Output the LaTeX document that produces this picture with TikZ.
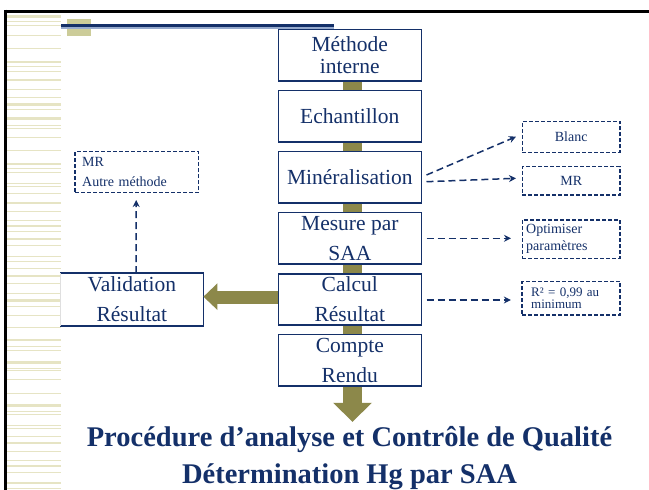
\documentclass[tikz,border=0pt]{standalone}
\usepackage{fontspec}
\setmainfont{Liberation Serif}
\usetikzlibrary{calc,arrows.meta}
\definecolor{navy}{RGB}{20,48,105}
\definecolor{olivec}{RGB}{140,136,74}
\definecolor{stripec}{RGB}{230,228,196}
\definecolor{sqc}{RGB}{204,204,153}
\definecolor{lblue}{RGB}{150,170,205}
\tikzset{
  box/.style={draw=navy, line width=1.6pt, fill=white, text=navy, inner sep=0pt,
    minimum width=143pt, minimum height=51.3pt, align=center,
    font=\fontsize{21.5}{30}\selectfont},
  dbox/.style={draw=navy, line width=1.5pt, dash pattern=on 4pt off 2pt, fill=white,
    text=navy, inner sep=0pt, font=\fontsize{14}{17}\selectfont},
  darr/.style={draw=navy, line width=1.5pt, dash pattern=on 7pt off 4pt,
    -{Stealth[length=7pt,width=7pt]}},
}
\begin{document}
\begin{tikzpicture}[x=1pt,y=-1pt]
\useasboundingbox (0,0) rectangle (649,490);
\fill[white] (0,0) rectangle (649,490);
% left stripes
\foreach \sy/\sw in {16.5/3,21.7/1,25/1,35/1,48/1,62/2.5,66.7/1,71/1,80/2.5,89/1,97/1,104/3,109/1,118/3,125/1,128/1,137/1,150/1,164/2.5,168/1,172.7/1,183/1,186.7/1,193/1,203/2.5,211.7/1,220/1,226/2.5,231.7/1,239/2.5,245/1,256.7/1,261.7/1,268/1,276/2.5,283/1,293/1,300/3,306/1,315/1,327/1,340/2.5,346/1,350/1,362/3,368/1,370.5/1,379/1,393/1,405.7/2.5,411.7/1,414/1,425/1,428/1,436/1,443/2.5,451.7/1,460/1,466/2.5,472/1,483/2.5,488/1}
  \draw[stripec, line width=\sw pt] (7,\sy) -- (61,\sy);
% frame lines
\draw[black, line width=3pt] (4,11) -- (649,11);
\draw[black, line width=2.5pt] (5.3,9.5) -- (5.3,490);
% olive square and blue rule
\fill[sqc] (67,19) rectangle (91,36);
\draw[navy, line width=2.6pt] (61,25.2) -- (334,25.2);
\draw[lblue, line width=1.4pt] (61,27.8) -- (334,27.8);
% olive backbone drawn first
\node[box, draw=none, fill=none] (meth0) at (349.8,55.3) {};
\node[box, draw=none, fill=none] (cr0) at (349.8,360.3) {};
\fill[olivec] ($(meth0.south)+(-6.8,0)$) rectangle ($(cr0.south)+(12.2,16)$);
\fill[olivec] ($(cr0.south)+(-16.8,16)$) -- ($(cr0.south)+(22.2,16)$) -- ($(cr0.south)+(2.7,35)$) -- cycle;
% boxes
\node[box, font=\fontsize{21.5}{22}\selectfont] (meth) at (349.8,55.3) {Méthode\\interne};
\node[box] (ech) at (349.8,116.3) {Echantillon};
\node[box] (min) at (349.8,177.3) {Minéralisation};
\node[box] (mes) at (349.8,238.3) {Mesure par\\SAA};
\node[box] (calc) at (349.8,299.5) {Calcul\\Résultat};
\node[box] (cr) at (349.8,360.3) {Compte\\Rendu};
% validation
\node[box, draw=none, minimum width=141.7pt, minimum height=51pt] (val) at (131.8,299.5) {Validation\\Résultat};
\draw[navy, line width=1.6pt] (val.north west) -- (val.north east) -- (val.south east) -- (val.south west);
\draw[gray!25, line width=1pt] (val.north west) -- (val.south west);
% left olive arrow
\fill[olivec] ($(calc.west)+(0,-8.8)$) rectangle ($(val.east)+(14,4.5)$);
\fill[olivec] ($(val.east)+(14,-16.2)$) -- ($(val.east)+(14,10.5)$) -- ($(val.east)+(0,-2.8)$) -- cycle;
% dashed boxes
\node[dbox, minimum width=123.3pt, minimum height=41pt, align=left, text width=109pt, inner xsep=7pt, font=\fontsize{14}{20}\selectfont] (mrl) at (136.7,172.2) {MR\\Autre méthode};
\node[dbox, minimum width=97.7pt, minimum height=31pt] (blanc) at (571.2,137.2) {Blanc};
\node[dbox, minimum width=97.7pt, minimum height=28.3pt] (mrr) at (571.2,180.8) {MR};
\node[dbox, minimum width=97.7pt, minimum height=38.3pt, align=left, text width=90pt, inner xsep=3.5pt] (opt) at (571.2,239.2) {Optimiser\\paramètres};
\node[dbox, minimum width=97.7pt, minimum height=33.3pt, align=left, text width=80pt, inner xsep=9pt, font=\fontsize{13}{12.5}\selectfont] (rsq) at (571.2,298.3) {R² = 0,99 au\\minimum};
% dashed arrows
\draw[darr] ($(min.east)+(4.4,-2.3)$) -- ($(blanc.west)+(-5.6,-0.5)$);
\draw[darr] ($(min.east)+(4.4,4.4)$) -- ($(mrr.west)+(-5.6,-2.5)$);
\draw[darr] ($(mes.east)+(4.4,0)$) -- ($(opt.west)+(-10.6,-0.9)$);
\draw[darr] ($(calc.east)+(4.4,0.5)$) -- ($(rsq.west)+(-10.6,1.7)$);
\draw[darr] ($(val.north)+(4.2,0)$) -- ($(mrl.south)+(-0.5,6.6)$);
% title
\node[text=navy, anchor=base, font=\bfseries\fontsize{28.5}{34}\selectfont] (t1) at (349.5,446.7) {Procédure d’analyse et Contrôle de Qualité};
\node[text=navy, anchor=base, font=\bfseries\fontsize{28.5}{34}\selectfont] (t2) at (349.5,483.3) {Détermination Hg par SAA};
\end{tikzpicture}
\end{document}
